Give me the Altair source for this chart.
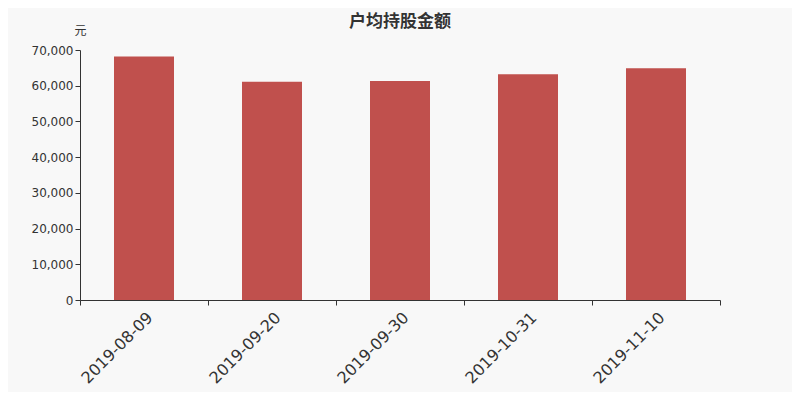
import altair as alt
import pandas as pd

dates = ["2019-08-09", "2019-09-20", "2019-09-30", "2019-10-31", "2019-11-10"]
values = [68200, 61100, 61300, 63200, 64900]
title_text = "户均持股金额"

df = pd.DataFrame({"date": dates, "value": values})
tdf = pd.DataFrame({"t": [title_text]})

font = "Noto Sans CJK SC"

bars = alt.Chart(df).mark_bar(color="#c0504d", width=60).encode(
    x=alt.X("date:N", sort=dates, title=None,
            scale=alt.Scale(paddingInner=0, paddingOuter=0),
            axis=alt.Axis(labelAngle=-45, labelFontSize=16, labelColor="#333333",
                          labelFont="DejaVu Sans", tickBand="extent", tickSize=5,
                          domainColor="#333333", tickColor="#333333", labelPadding=4)),
    y=alt.Y("value:Q", title="元",
            scale=alt.Scale(domain=[0, 70000], nice=False),
            axis=alt.Axis(values=[0, 10000, 20000, 30000, 40000, 50000, 60000, 70000],
                          format=",d", grid=False, labelFontSize=12, labelColor="#333333",
                          labelFont="DejaVu Sans", tickSize=5, domainColor="#333333",
                          tickColor="#333333", titleAngle=0, titleFontSize=12,
                          titleFont=font, titleFontWeight="normal", titleColor="#333333",
                          titleX=0, titleY=-20, titleAlign="center", titleBaseline="middle"))
)

title = alt.Chart(tdf).mark_text(font=font, fontSize=17, fontWeight="bold",
                                 color="#333333", align="center", baseline="middle").encode(
    text="t:N", x=alt.value(320), y=alt.value(-28)
)

chart = alt.layer(bars, title).properties(
    width=640, height=250,
    autosize=alt.AutoSizeParams(type="none"),
    padding={"left": 72, "top": 42, "right": 72, "bottom": 92},
    background="#f8f8f8"
).configure_view(stroke=None)

chart.save("out.html", embed_options={"renderer": "svg", "actions": False})
